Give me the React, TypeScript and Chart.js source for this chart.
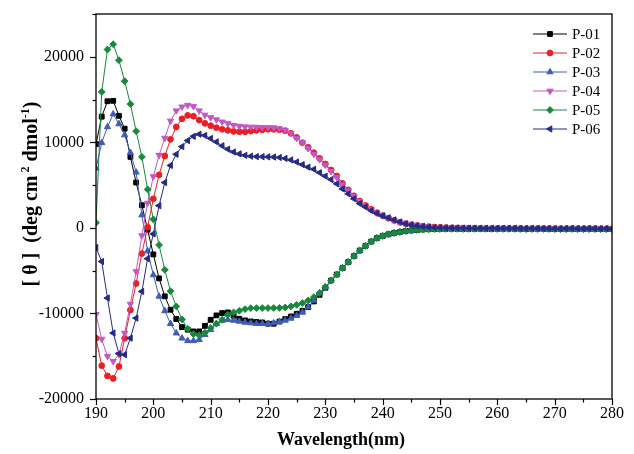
import React, { useEffect, useRef } from 'react';
import { Chart, registerables } from 'chart.js';
import { drawPoint } from 'chart.js/helpers';

Chart.register(...registerables);

const FONT = '"Liberation Serif", "Times New Roman", serif';

const WAVELENGTH = [
  190, 191, 192, 193, 194, 195, 196, 197, 198, 199,
  200, 201, 202, 203, 204, 205, 206, 207, 208, 209,
  210, 211, 212, 213, 214, 215, 216, 217, 218, 219,
  220, 221, 222, 223, 224, 225, 226, 227, 228, 229,
  230, 231, 232, 233, 234, 235, 236, 237, 238, 239,
  240, 241, 242, 243, 244, 245, 246, 247, 248, 249,
  250, 251, 252, 253, 254, 255, 256, 257, 258, 259,
  260, 261, 262, 263, 264, 265, 266, 267, 268, 269,
  270, 271, 272, 273, 274, 275, 276, 277, 278, 279, 280,
];

const P01 = [
  9800, 13000, 14800, 14850, 13100, 11600, 8300, 5300, 2650, -200,
  -3100, -5900, -8000, -9570, -10650, -11600, -11900, -12100, -12100, -11450,
  -10740, -10230, -9960, -9880, -10270, -10620, -10810, -10930, -11000, -11050,
  -11200, -11200, -10950, -10660, -10350, -10040, -9690, -9260, -8600, -7820,
  -7000, -6150, -5450, -4700, -4000, -3300, -2650, -2100, -1600, -1200,
  -950, -750, -600, -480, -380, -300, -240, -190, -160, -140,
  -120, -110, -100, -110, -120, -110, -100, -100, -110, -120,
  -110, -100, -90, -100, -110, -120, -110, -100, -110, -120,
  -130, -120, -110, -120, -130, -120, -110, -120, -130, -120, -130,
];

const P02 = [
  -12900, -16100, -17300, -17600, -16200, -12900, -9600, -6500, -3000, 100,
  3400, 6200, 8400, 10350, 11800, 12750, 13150, 13050, 12600, 12220,
  11940, 11710, 11520, 11400, 11280, 11240, 11240, 11320, 11400, 11470,
  11520, 11520, 11470, 11360, 11050, 10580, 9960, 9420, 8790, 8130,
  7470, 6770, 6070, 5200, 4450, 3750, 3150, 2620, 2180, 1780,
  1430, 1130, 870, 660, 500, 380, 280, 200, 150, 100,
  60, 30, 10, -10, -20, -30, -40, -50, -60, -70,
  -60, -70, -80, -70, -80, -90, -80, -90, -100, -90,
  -100, -110, -100, -90, -100, -110, -100, -110, -120, -110, -120,
];

const P03 = [
  6970, 9950, 11800, 13300, 12150, 10850, 8800, 6500, 1500, -2700,
  -5500, -8000, -9700, -11200, -12300, -12900, -13200, -13200, -13070, -12490,
  -11900, -11200, -10810, -10740, -10810, -10930, -11050, -11120, -11200, -11200,
  -11200, -11120, -10970, -10810, -10580, -10270, -9880, -9260, -8480, -7600,
  -6900, -6150, -5450, -4700, -4000, -3300, -2650, -2100, -1600, -1200,
  -950, -750, -600, -480, -380, -300, -240, -190, -160, -140,
  -120, -110, -120, -110, -100, -110, -120, -110, -100, -110,
  -120, -110, -100, -110, -120, -130, -120, -110, -100, -110,
  -120, -130, -120, -110, -120, -130, -120, -110, -120, -130, -120,
];

const P04 = [
  -10100, -13000, -15000, -15600, -14800, -12300, -8900, -5100, -900, 2900,
  6000, 8500, 10500, 12500, 13700, 14150, 14350, 14200, 13700, 13200,
  12900, 12650, 12400, 12200, 12000, 11900, 11830, 11800, 11780, 11750,
  11740, 11720, 11620, 11420, 11050, 10480, 9980, 9300, 8620, 8000,
  7350, 6600, 5900, 5050, 4350, 3700, 3100, 2600, 2150, 1750,
  1420, 1120, 860, 650, 490, 380, 270, 190, 140, 100,
  70, 40, 20, 0, -10, -20, -30, -40, -50, -60,
  -50, -60, -70, -60, -70, -80, -70, -80, -90, -80,
  -90, -100, -90, -80, -90, -100, -90, -100, -110, -100, -110,
];

const P05 = [
  600, 15900, 20850, 21470, 19600, 17150, 14470, 11300, 8300, 4500,
  1000, -2000, -4900, -7400, -9180, -10700, -11800, -12400, -12550, -12250,
  -11700, -11200, -10740, -10150, -9880, -9690, -9490, -9380, -9370, -9370,
  -9370, -9360, -9340, -9300, -9180, -8990, -8790, -8480, -8090, -7620,
  -6950, -6150, -5450, -4700, -4000, -3300, -2650, -2100, -1600, -1200,
  -950, -750, -600, -480, -380, -300, -240, -190, -160, -140,
  -130, -120, -110, -120, -130, -120, -110, -100, -110, -120,
  -130, -120, -110, -120, -130, -140, -130, -120, -110, -120,
  -130, -140, -130, -120, -130, -140, -130, -120, -130, -140, -130,
];

const P06 = [
  -2300, -3930, -8200, -12290, -14700, -14820, -12880, -10540, -7430, -3600,
  -700, 2600, 5300, 7300, 8600, 9500, 10200, 10700, 10950, 10800,
  10450, 10050, 9600, 9200, 8870, 8650, 8480, 8380, 8330, 8320,
  8300, 8280, 8230, 8120, 7940, 7700, 7400, 7100, 6850, 6450,
  6050, 5650, 5150, 4550, 3980, 3400, 2850, 2450, 2020, 1700,
  1420, 1180, 930, 700, 480, 350, 240, 160, 100, 60,
  30, 10, 0, -10, -20, -30, -30, -40, -50, -50,
  -40, -50, -60, -50, -60, -70, -60, -70, -80, -70,
  -80, -90, -80, -70, -80, -90, -80, -90, -100, -90, -100,
];

const SERIES_LABELS = ['P-01', 'P-02', 'P-03', 'P-04', 'P-05', 'P-06'];
const SERIES_VALUES = [P01, P02, P03, P04, P05, P06];
const SERIES_COLORS = ['#000000', '#ee1d23', '#3f5cb8', '#c457c4', '#17893c', '#252b85'];
const SERIES_MARKERS = ['rect', 'circle', 'triangle', 'triangle', 'rectRot', 'triangle'];
const SERIES_ROTATION = [0, 0, 0, 180, 0, -90];
const SERIES_RADIUS = [3.4, 2.9, 3.6, 3.6, 3.4, 3.6];

const X_MIN = 190;
const X_MAX = 280;
const Y_MIN = -20000;
const Y_MAX = 25000;
const X_TICK_LABELS = [190, 200, 210, 220, 230, 240, 250, 260, 270, 280];
const Y_TICK_LABELS = [-20000, -10000, 0, 10000, 20000];
const X_TITLE = 'Wavelength(nm)';

const framePlugin = {
  id: 'frameAndLegend',
  afterDraw(chart: any) {
    const { ctx, chartArea: a, scales } = chart;
    ctx.save();
    ctx.strokeStyle = '#000';
    ctx.lineWidth = 1.3;
    ctx.strokeRect(a.left, a.top, a.right - a.left, a.bottom - a.top);

    ctx.lineWidth = 1.2;
    for (let v = X_MIN; v <= X_MAX; v += 5) {
      const px = Math.round(scales.x.getPixelForValue(v)) + 0.5;
      const len = (v - X_MIN) % 10 === 0 ? 6 : 3.5;
      ctx.beginPath();
      ctx.moveTo(px, a.bottom);
      ctx.lineTo(px, a.bottom + len);
      ctx.stroke();
    }
    for (let v = Y_MIN; v <= Y_MAX; v += 5000) {
      const py = Math.round(scales.y.getPixelForValue(v)) + 0.5;
      const len = v % 10000 === 0 ? 6 : 3.5;
      ctx.beginPath();
      ctx.moveTo(a.left, py);
      ctx.lineTo(a.left - len, py);
      ctx.stroke();
    }

    ctx.fillStyle = '#000';
    ctx.font = `bold 18px ${FONT}`;
    ctx.textAlign = 'center';
    ctx.textBaseline = 'middle';
    ctx.fillText(X_TITLE, 341, 440);

    const parts = [
      { t: '[ θ ]  (deg cm', sup: false },
      { t: ' 2', sup: true },
      { t: ' dmol', sup: false },
      { t: '-1', sup: true },
      { t: ')', sup: false },
    ];
    const mainFont = `bold 20px ${FONT}`;
    const supFont = `bold 12px ${FONT}`;
    let total = 0;
    const widths = parts.map((p) => {
      ctx.font = p.sup ? supFont : mainFont;
      const w = ctx.measureText(p.t).width;
      total += w;
      return w;
    });
    ctx.translate(37, 194);
    ctx.rotate(-Math.PI / 2);
    ctx.textAlign = 'left';
    ctx.textBaseline = 'alphabetic';
    let u = -total / 2;
    parts.forEach((p, i) => {
      ctx.font = p.sup ? supFont : mainFont;
      ctx.fillText(p.t, u, p.sup ? -8 : 0);
      u += widths[i];
    });
    ctx.setTransform(1, 0, 0, 1, 0, 0);

    ctx.font = `15px ${FONT}`;
    ctx.textAlign = 'left';
    ctx.textBaseline = 'middle';
    chart.data.datasets.forEach((ds: any, i: number) => {
      const y = 34 + i * 19;
      ctx.strokeStyle = ds.borderColor;
      ctx.lineWidth = 1;
      ctx.beginPath();
      ctx.moveTo(533, y);
      ctx.lineTo(567, y);
      ctx.stroke();
      ctx.fillStyle = ds.pointBackgroundColor;
      ctx.strokeStyle = ds.pointBorderColor;
      drawPoint(ctx, {
        pointStyle: ds.pointStyle,
        rotation: ds.pointRotation,
        radius: ds.pointRadius,
        borderWidth: 1,
      } as any, 550, y);
      ctx.fillStyle = '#000';
      ctx.fillText(ds.label, 572, y + 1);
    });
    ctx.restore();
  },
};

export default function App() {
  const ref = useRef<HTMLCanvasElement | null>(null);

  useEffect(() => {
    if (!ref.current) return;
    const datasets = SERIES_LABELS.map((label, i) => ({
      label,
      data: WAVELENGTH.map((x, j) => ({ x, y: SERIES_VALUES[i][j] })),
      borderColor: SERIES_COLORS[i],
      backgroundColor: SERIES_COLORS[i],
      pointBackgroundColor: SERIES_COLORS[i],
      pointBorderColor: SERIES_COLORS[i],
      pointStyle: SERIES_MARKERS[i],
      pointRotation: SERIES_ROTATION[i],
      pointRadius: SERIES_RADIUS[i],
      pointBorderWidth: 1,
      borderWidth: 1,
      tension: 0,
      fill: false,
      order: SERIES_LABELS.length - i,
    }));

    const chart = new Chart(ref.current, {
      type: 'line',
      data: { datasets },
      options: {
        animation: false,
        responsive: false,
        maintainAspectRatio: false,
        events: [],
        layout: { padding: { left: 0, right: 22, top: 14, bottom: 0 } },
        plugins: {
          legend: { display: false },
          tooltip: { enabled: false },
          title: { display: false },
        },
        scales: {
          x: {
            type: 'linear',
            min: X_MIN,
            max: X_MAX,
            afterFit: (s: any) => { s.height = 55; s.paddingLeft = 0; s.paddingRight = 0; },
            afterBuildTicks: (s: any) => { s.ticks = X_TICK_LABELS.map((v) => ({ value: v })); },
            grid: { display: false, drawTicks: false },
            border: { display: false },
            ticks: {
              padding: 5,
              color: '#000',
              font: { family: FONT, size: 16 },
              maxRotation: 0,
              autoSkip: false,
            },
          },
          y: {
            type: 'linear',
            min: Y_MIN,
            max: Y_MAX,
            afterFit: (s: any) => { s.width = 96; s.paddingTop = 0; s.paddingBottom = 0; },
            afterBuildTicks: (s: any) => { s.ticks = Y_TICK_LABELS.map((v) => ({ value: v })); },
            grid: { display: false, drawTicks: false },
            border: { display: false },
            ticks: {
              padding: 12,
              color: '#000',
              font: { family: FONT, size: 16 },
              callback: (v: any) => String(v),
            },
          },
        },
      } as any,
      plugins: [framePlugin],
    });
    return () => chart.destroy();
  }, []);

  return (
    <div style={{ position: 'absolute', left: 0, top: 0, width: 634, height: 454, background: '#fff' }}>
      <canvas ref={ref} width={634} height={454} style={{ display: 'block' }} />
    </div>
  );
}
